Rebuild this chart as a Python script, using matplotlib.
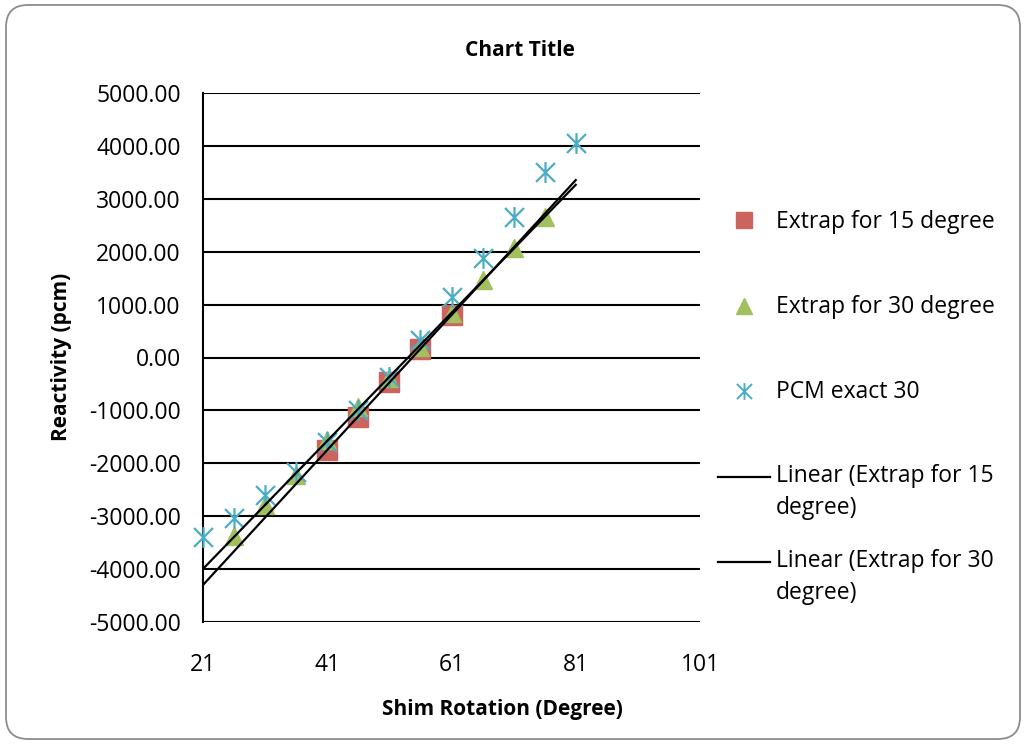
import numpy as np
import matplotlib
matplotlib.use("Agg")
import matplotlib.pyplot as plt
from matplotlib.path import Path
from matplotlib.lines import Line2D
from matplotlib.patches import FancyBboxPatch
from matplotlib.ticker import FormatStrFormatter
from matplotlib.transforms import IdentityTransform

plt.rcParams['font.family'] = ['Open Sans', 'DejaVu Sans']

# Shim rotation (degree) and reactivity (pcm)
x15 = [41, 46, 51, 56, 61]
y15 = [-1749, -1119, -457, 155, 803]

x30 = [26, 31, 36, 41, 46, 51, 56, 61, 66, 71, 76]
y30 = [-3370, -2788, -2221, -1560, -936, -380, 200, 840, 1465, 2070, 2656]

x_pcm = [21, 26, 31, 36, 41, 46, 51, 56, 61, 66, 71, 76, 81]
y_pcm = [-3388, -3040, -2600, -2159, -1592, -985, -363, 330, 1138, 1875, 2662, 3512, 4049]

trend_x = [21, 81]
x_ticks = [21, 41, 61, 81, 101]
y_ticks = [-5000, -4000, -3000, -2000, -1000, 0, 1000, 2000, 3000, 4000, 5000]

labels = ["Extrap for 15 degree", "Extrap for 30 degree", "PCM exact 30",
          "Linear (Extrap for 15\ndegree)", "Linear (Extrap for 30\ndegree)"]

RED = '#CD635E'
GREEN = '#A2C05F'
CYAN = '#4BACC6'

# asterisk marker: an X with a vertical stroke
star_path = Path(
    [(-0.5, -0.5), (0.5, 0.5), (-0.5, 0.5), (0.5, -0.5), (0, -0.55), (0, 0.55)],
    [Path.MOVETO, Path.LINETO, Path.MOVETO, Path.LINETO, Path.MOVETO, Path.LINETO])

W, H, DPI = 1026, 744, 100
fig = plt.figure(figsize=(W / DPI, H / DPI), dpi=DPI)

# rounded chart-area border
border = FancyBboxPatch((6, 5), W - 12, H - 10, boxstyle="round,pad=0,rounding_size=22",
                        transform=IdentityTransform(), facecolor='none',
                        edgecolor='#8c8c8c', linewidth=1.3, zorder=-10)
fig.patches.append(border)

ax = fig.add_axes([203 / W, 1 - 622 / H, (700 - 203) / W, (622 - 93) / H])
ax.set_facecolor('none')

ax.set_xlim(x_ticks[0], x_ticks[-1])
ax.set_ylim(y_ticks[0], y_ticks[-1])
ax.set_xticks(x_ticks)
ax.set_yticks(y_ticks)
ax.yaxis.set_major_formatter(FormatStrFormatter('%.2f'))
ax.grid(axis='y', color='black', linewidth=1.5, zorder=1)
ax.set_axisbelow(True)
for side in ('top', 'right', 'bottom'):
    ax.spines[side].set_visible(False)
ax.spines['left'].set_linewidth(1.5)
ax.tick_params(axis='both', length=0, labelsize=16.5, colors='black')
ax.tick_params(axis='y', pad=16)
ax.tick_params(axis='x', pad=22)

# linear trendlines
for xs, ys in ((x15, y15), (x30, y30)):
    k, b = np.polyfit(xs, ys, 1)
    tx = np.array(trend_x, dtype=float)
    ax.plot(tx, k * tx + b, color='black', linewidth=1.6, zorder=4)

ax.plot(x15, y15, linestyle='none', marker='s', markersize=14.5, color=RED,
        zorder=3, clip_on=False)
ax.plot(x30, y30, linestyle='none', marker='^', markersize=13, color=GREEN,
        zorder=3, clip_on=False)
ax.plot(x_pcm, y_pcm, linestyle='none', marker=star_path, markersize=15,
        markeredgewidth=1.6, color=CYAN, zorder=3, clip_on=False)

fig.text(520 / W, 1 - 50 / H, "Chart Title", ha='center', va='center',
         fontsize=15, fontweight='bold')
fig.text(502 / W, 1 - 710 / H, "Shim Rotation (Degree)", ha='center', va='center',
         fontsize=15, fontweight='bold')
fig.text(62 / W, 1 - 357 / H, "Reactivity (pcm)", ha='center', va='center',
         rotation=90, fontsize=15, fontweight='bold')

# legend drawn in pixel positions on the figure
def fx(px):
    return px / W

def fy(py):
    return 1 - py / H

leg_text_x = 776
entries = [
    (dict(marker='s', markersize=12, color=RED, linestyle='none'), 220, 222),
    (dict(marker='^', markersize=12, color=GREEN, linestyle='none'), 306, 307),
    (dict(marker=star_path, markersize=12, markeredgewidth=1.4, color=CYAN,
          linestyle='none'), 391, 392),
]
for (style, my, ty), label in zip(entries, labels[:3]):
    fig.add_artist(Line2D([fx(744)], [fy(my)], transform=fig.transFigure, **style))
    fig.text(fx(leg_text_x), fy(ty), label, ha='left', va='center', fontsize=16.5)

for ly, label in ((477, labels[3]), (562, labels[4])):
    fig.add_artist(Line2D([fx(718), fx(770)], [fy(ly), fy(ly)], transform=fig.transFigure,
                          color='black', linewidth=1.6))
    fig.text(fx(leg_text_x), fy(ly - 13), label, ha='left', va='top', fontsize=16.5,
             linespacing=1.45)

fig.savefig("out.png", dpi=DPI)
